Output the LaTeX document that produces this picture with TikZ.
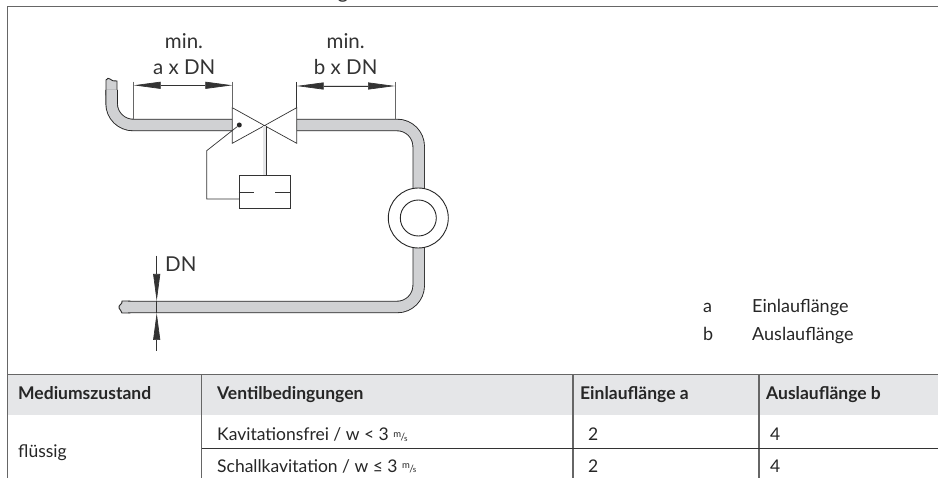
\documentclass[tikz,border=0pt]{standalone}
\usepackage{fontspec}
\setmainfont{Lato}
\usetikzlibrary{arrows.meta}
\definecolor{pipegray}{HTML}{D0D1D3}
\definecolor{headgray}{HTML}{E5E6E8}
\definecolor{inkgray}{HTML}{333333}
\definecolor{rulegray}{HTML}{666666}
\newcommand{\mps}{\raisebox{0.35ex}{\fontsize{9.5}{9}\selectfont m}\kern-0.5pt{\fontsize{10}{9}\selectfont /}\kern-1pt\raisebox{-0.1ex}{\fontsize{8}{8}\selectfont s}}
\tikzset{
  pipe/.style={draw=black!85, line width=0.9pt, double=pipegray, double distance=10.6pt},
  thinline/.style={draw=inkgray, line width=0.7pt},
  dimtip/.style={{Triangle[length=27pt,width=7pt]}-{Triangle[length=27pt,width=7pt]}},
  dntip/.style={-{Triangle[length=27pt,width=7pt]}},
  txt/.style={inner sep=0pt, anchor=base, text=inkgray, font=\fontsize{20.5}{24}\selectfont},
  cell/.style={inner sep=0pt, anchor=base west, text=black!85, font=\fontsize{17.5}{20}\selectfont},
  headcell/.style={cell, font=\fontsize{17.5}{20}\selectfont\bfseries},
  legend/.style={cell, font=\fontsize{18}{20}\selectfont}
}
\begin{document}
\begin{tikzpicture}[x=1pt, y=-1pt]
\useasboundingbox (0,0) rectangle (938,478);
\fill[white] (0,0) rectangle (938,478);
% table head
\fill[headgray] (8,375) rectangle (938,415);
% frame and table rules
\draw[rulegray, line width=1.2pt] (7.5,6.5) -- (938,6.5);
\draw[rulegray, line width=1.2pt] (7.5,6.5) -- (7.5,478);
\draw[rulegray, line width=1.6pt] (7.5,374.5) -- (938,374.5);
\draw[rulegray, line width=1.2pt] (201.7,374.5) -- (201.7,478);
\draw[rulegray, line width=1.2pt] (573,374.5) -- (573,478);
\draw[rulegray, line width=1.2pt] (759,374.5) -- (759,478);
\draw[inkgray, line width=1pt] (201.7,448.3) -- (938,448.3);
% pipe ends
\fill[pipegray, draw=black!85, line width=0.9pt] (106,95) -- (106,80) .. controls (107,78) and (109,78) .. (110,79) .. controls (111,81) and (114,81) .. (117,81) -- (117,95) -- cycle;
\fill[pipegray, draw=black!85, line width=0.9pt] (130,301) -- (122,301) .. controls (123,304) and (118,305) .. (119,308) .. controls (120,311) and (122,311) .. (122,313) -- (130,313) -- cycle;
% pipe
\draw[pipe, rounded corners=21.5pt] (111.6,90) -- (111.6,125) -- (232.3,125);
\draw[pipe, rounded corners=21.5pt] (296.7,125) -- (418.7,125) -- (418.7,190);
\draw[pipe, rounded corners=21.5pt] (418.7,246) -- (418.7,307) -- (128,307);
% pump
\node (pump) at (418.3,218) [circle, draw=black!85, fill=white, line width=0.9pt, minimum size=60pt, inner sep=0pt] {};
\node (rotor) at (418.3,218) [circle, draw=black!85, line width=0.9pt, minimum size=36pt, inner sep=0pt] {};
% valve
\draw[thinline, fill=white, line join=miter] (232.3,107.7) -- (264.5,125.6) -- (232.3,143.3) -- cycle;
\draw[thinline, fill=white, line join=miter] (296.7,107.7) -- (264.5,125.6) -- (296.7,143.3) -- cycle;
\draw[draw=inkgray, line width=0.7pt, double=headgray, double distance=2.6pt] (264.7,125.6) -- (264.7,175.7);
\node (actuator) at (264.7,192) [draw=inkgray, line width=0.8pt, fill=white, minimum width=51.3pt, minimum height=32.3pt, inner sep=0pt] {};
\coordinate (leftdash) at (254.3,192);
\coordinate (rightdash) at (275.3,192);
\draw[thinline] (actuator.west) -- (leftdash);
\draw[thinline] (rightdash) -- (actuator.east);
% impulse line
\node (tap) at (239.3,125) [circle, fill=black!85, minimum size=5pt, inner sep=0pt] {};
\coordinate (bend1) at (206.7,150.7);
\coordinate (bend2) at (206.7,199);
\coordinate (bend3) at (239,199);
\draw[thinline] (tap) -- (bend1) -- (bend2) -- (bend3);
% dimensions
\coordinate (a1) at (133.7,85.3);
\coordinate (a2) at (232.3,85.3);
\coordinate (b1) at (296.7,86);
\coordinate (b2) at (395,86);
\draw[draw=rulegray, line width=0.7pt] (133.7,81.7) -- (133.7,119);
\draw[draw=rulegray, line width=0.7pt] (232.3,81.7) -- (232.3,108);
\draw[draw=inkgray, line width=1pt] (296.7,82) -- (296.7,108);
\draw[draw=rulegray, line width=0.7pt] (395,82) -- (395,119);
\draw[thinline, fill=black, dimtip] (a1) -- (a2);
\draw[thinline, fill=black, dimtip] (b1) -- (b2);
\coordinate (dntop) at (156.7,255.7);
\coordinate (dnin1) at (156.7,301);
\coordinate (dnbot) at (156.7,350.7);
\coordinate (dnin2) at (156.7,313);
\draw[thinline, dntip] (dntop) -- (dnin1);
\draw[thinline, dntip] (dnbot) -- (dnin2);
\draw[thinline] (dnin1) -- (dnin2);
% labels
\node[txt] (title) at (343,-1) {g};
\node[txt] (mina) at (184,49) {min.};
\node[txt] (axdn) at (184.3,75) {a x DN};
\node[txt] (minb) at (345.7,49) {min.};
\node[txt] (bxdn) at (345.7,75) {b x DN};
\node[txt, anchor=base west] (dn) at (165,271.7) {DN};
\node[legend] (la) at (703,313) {a};
\node[legend] (lb) at (703,341) {b};
\node[legend] (einlauf) at (752,313) {Einlauflänge};
\node[legend] (auslauf) at (752,341) {Auslauflänge};
% table
\node[headcell] (h1) at (18,400) {Mediumszustand};
\node[headcell] (h2) at (217,400) {Ventilbedingungen};
\node[headcell] (h3) at (580,400) {Einlauflänge a};
\node[headcell] (h4) at (766,400) {Auslauflänge b};
\node[cell] (state) at (18,458) {flüssig};
\node[cell] (cond1) at (217,441) {Kavitationsfrei / w < 3 \mps};
\node[cell] (cond2) at (217,472) {Schallkavitation / w ≤ 3 \mps};
\node[cell] (e1) at (588,441) {2};
\node[cell] (a1v) at (770,441) {4};
\node[cell] (e2) at (588,472) {2};
\node[cell] (a2v) at (770,472) {4};
\end{tikzpicture}
\end{document}
